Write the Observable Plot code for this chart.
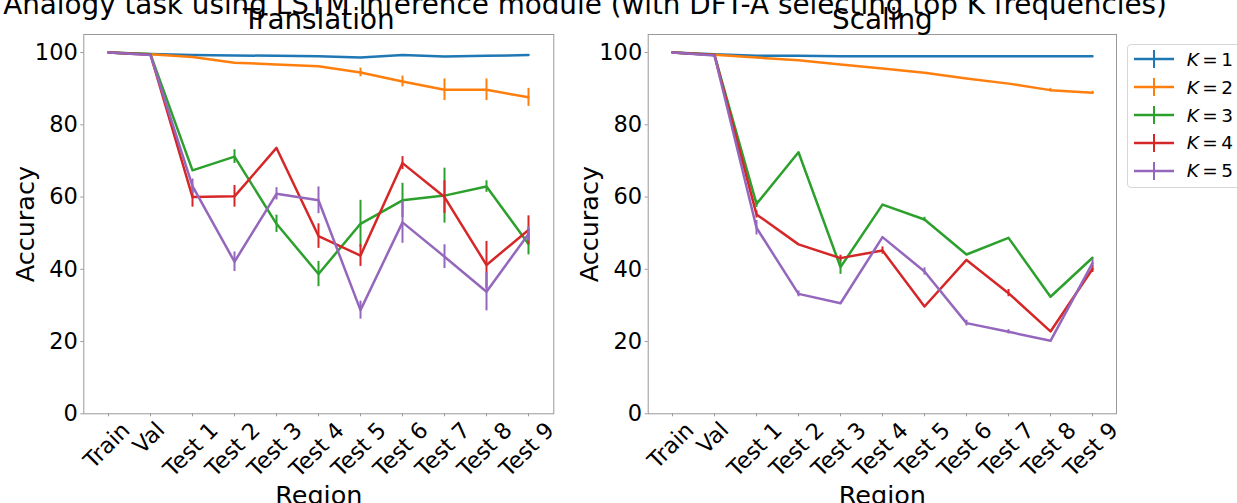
<!DOCTYPE html>
<html>
<head>
<meta charset="utf-8">
<script src="https://cdn.jsdelivr.net/npm/d3@7"></script>
<script src="https://cdn.jsdelivr.net/npm/@observablehq/plot@0.6"></script>
<style>
  body { margin: 0; background: #fff; }
  #fig { position: relative; width: 1237px; height: 503px; overflow: hidden; background: #fff;
         font-family: "DejaVu Sans", sans-serif; color: #000; }
  .panel { position: absolute; top: 0; }
  #suptitle { position: absolute; left: 0; width: 1170px; text-align: center; font-size: 27.8px;
              line-height: 27.8px; top: -9.5px; white-space: nowrap; }
  #legend { position: absolute; left: 1127.3px; top: 44px; width: 130px; height: 141px;
            border: 1px solid #d6d6d6; border-radius: 4px; background: #fff; padding-top: 0.5px; box-sizing: content-box; }
  #legend .row { height: 27.85px; display: flex; align-items: center; font-size: 18.5px; white-space: nowrap; }
  #legend svg { margin-left: 5.7px; margin-right: 12.7px; flex: none; }
  #legend .eq { margin: 0 3.5px; }
</style>
</head>
<body>
<div id="fig">
  <div id="suptitle">Analogy task using LSTM inference module (with DFT-A selecting top K frequencies)</div>
</div>
<script>
const regions = ["Train", "Val", "Test 1", "Test 2", "Test 3", "Test 4", "Test 5", "Test 6", "Test 7", "Test 8", "Test 9"];
const seriesLabels = ["K = 1", "K = 2", "K = 3", "K = 4", "K = 5"];
const seriesColors = ["#1f77b4", "#ff7f0e", "#2ca02c", "#d62728", "#9467bd"];
const yTicks = [0, 20, 40, 60, 80, 100];
const panelTitles = ["Translation", "Scaling"];
const xLabel = "Region";
const yLabel = "Accuracy";

// Translation panel: mean accuracy per K (rows) and region (columns)
const translationMean = [
  [100, 99.6, 99.3, 99.2, 99.1, 99.0, 98.6, 99.3, 98.9, 99.1, 99.3],
  [100, 99.5, 98.8, 97.2, 96.7, 96.2, 94.5, 92.0, 89.7, 89.7, 87.6],
  [100, 99.5, 67.4, 71.2, 52.6, 38.7, 52.6, 59.1, 60.4, 62.9, 47.0],
  [100, 99.4, 60.0, 60.2, 73.6, 49.2, 43.8, 69.4, 60.0, 41.2, 50.9],
  [100, 99.3, 63.0, 42.1, 60.9, 59.1, 28.7, 53.0, 43.5, 33.8, 49.8]
];
const translationErr = [
  [0, 0, 0, 0, 0, 0, 0, 0, 0, 0, 0],
  [0, 0, 0, 0, 0, 0, 1.2, 1.5, 3.0, 3.0, 2.5],
  [0, 0, 0, 1.9, 2.4, 3.5, 6.5, 4.7, 7.6, 1.6, 3.0],
  [0, 0, 2.8, 3.0, 0, 3.4, 3.0, 1.8, 4.5, 6.5, 3.9],
  [0, 0, 2.0, 2.7, 1.7, 3.7, 2.5, 5.8, 3.3, 5.3, 2.0]
];

// Scaling panel
const scalingMean = [
  [100, 99.5, 99.1, 99.1, 99.0, 99.0, 99.0, 99.0, 99.0, 99.0, 99.0],
  [100, 99.4, 98.6, 97.9, 96.7, 95.6, 94.4, 92.8, 91.4, 89.6, 88.9],
  [100, 99.3, 58.1, 72.4, 40.6, 57.9, 53.8, 44.1, 48.7, 32.4, 43.2],
  [100, 99.3, 55.2, 46.9, 43.1, 45.2, 29.7, 42.6, 33.4, 22.8, 40.1],
  [100, 99.2, 51.5, 33.2, 30.6, 48.9, 39.4, 25.1, 22.7, 20.2, 41.7]
];
const scalingErr = [
  [0, 0, 0, 0, 0, 0, 0, 0, 0, 0, 0],
  [0, 0, 0, 0, 0, 0, 0, 0, 0, 0.5, 0.4],
  [0, 0, 1.0, 0, 2.0, 0, 0.6, 0, 0, 0, 0],
  [0, 0, 1.0, 0, 0.8, 1.0, 0, 0, 1.0, 0, 1.0],
  [0, 0, 2.0, 0.8, 0, 0, 1.0, 0.8, 0.6, 0, 1.0]
];

const tickFont = 22.5;
const labelFont = 25.5;
const titleFont = 27.8;
const frameColor = "#999";

const ctx = document.createElement("canvas").getContext("2d");
ctx.font = `${tickFont}px "DejaVu Sans"`;
function labelOffset(lab) {
  const m = ctx.measureText(lab);
  const w = m.actualBoundingBoxLeft + m.actualBoundingBoxRight;
  const capH = 0.729 * tickFont;
  return 7 + (w + capH) * Math.SQRT1_2 / 2;
}

function panel(title, means, errs, left, marginLeft, marginRight) {
  const width = 600;
  const marks = [
    Plot.frame({stroke: frameColor}),
    Plot.axisY(yTicks, {tickSize: 3, tickPadding: 3, stroke: frameColor, fill: "#000", fontSize: tickFont, label: null}),
    Plot.axisX(regions, {tickSize: 3, stroke: frameColor, tickFormat: () => "", label: null})
  ];
  regions.forEach((lab) => {
    marks.push(Plot.text([lab], {
      x: d => d, text: d => d, frameAnchor: "bottom", rotate: -45,
      textAnchor: "middle", lineAnchor: "middle", dy: labelOffset(lab), dx: -1.5,
      fontSize: tickFont, fill: "#000"
    }));
  });
  means.forEach((vals, k) => {
    const rows = regions.map((r, i) => ({region: r, value: vals[i], err: errs[k][i], series: seriesLabels[k]}));
    marks.push(Plot.line(rows, {x: "region", y: "value", stroke: "series", strokeWidth: 2.5}));
    marks.push(Plot.ruleX(rows.filter(d => d.err > 0), {
      x: "region", y1: d => d.value - d.err, y2: d => d.value + d.err, stroke: "series", strokeWidth: 2
    }));
  });
  marks.push(Plot.text([title], {text: d => d, frameAnchor: "top", textAnchor: "middle", lineAnchor: "bottom", dy: -5.5, fontSize: titleFont, fill: "#000"}));
  marks.push(Plot.text([yLabel], {text: d => d, frameAnchor: "left", textAnchor: "middle", rotate: -90, lineAnchor: "bottom", dx: -50.3, fontSize: labelFont, fill: "#000"}));
  marks.push(Plot.text([xLabel], {text: d => d, frameAnchor: "bottom", textAnchor: "middle", lineAnchor: "bottom", dy: 90.2, fontSize: labelFont, fill: "#000"}));

  const chart = Plot.plot({
    width, height: 503,
    marginLeft, marginRight, marginTop: 34, marginBottom: 503 - 413.3,
    x: {type: "point", domain: regions, padding: 0.5},
    y: {domain: [0, 105]},
    color: {domain: seriesLabels, range: seriesColors},
    style: {fontFamily: "DejaVu Sans", background: "transparent", color: "#000"},
    marks
  });
  chart.classList.add("panel");
  chart.style.left = left + "px";
  return chart;
}

const fig = document.getElementById("fig");
fig.appendChild(panel(panelTitles[0], translationMean, translationErr, 0, 83.3, 600 - 553.3));
fig.appendChild(panel(panelTitles[1], scalingMean, scalingErr, 564, 83.7, 600 - (1116 - 564)));

// legend
const legend = document.createElement("div");
legend.id = "legend";
seriesLabels.forEach((lab, i) => {
  const row = document.createElement("div");
  row.className = "row";
  const c = seriesColors[i];
  const num = lab.split("=")[1].trim();
  row.innerHTML = `<svg width="40" height="22"><line x1="0" x2="40" y1="11" y2="11" stroke="${c}" stroke-width="2.5"/><line x1="20" x2="20" y1="2" y2="20" stroke="${c}" stroke-width="2"/></svg><span><i>K</i><span class="eq">=</span>${num}</span>`;
  legend.appendChild(row);
});
fig.appendChild(legend);
</script>
</body>
</html>
